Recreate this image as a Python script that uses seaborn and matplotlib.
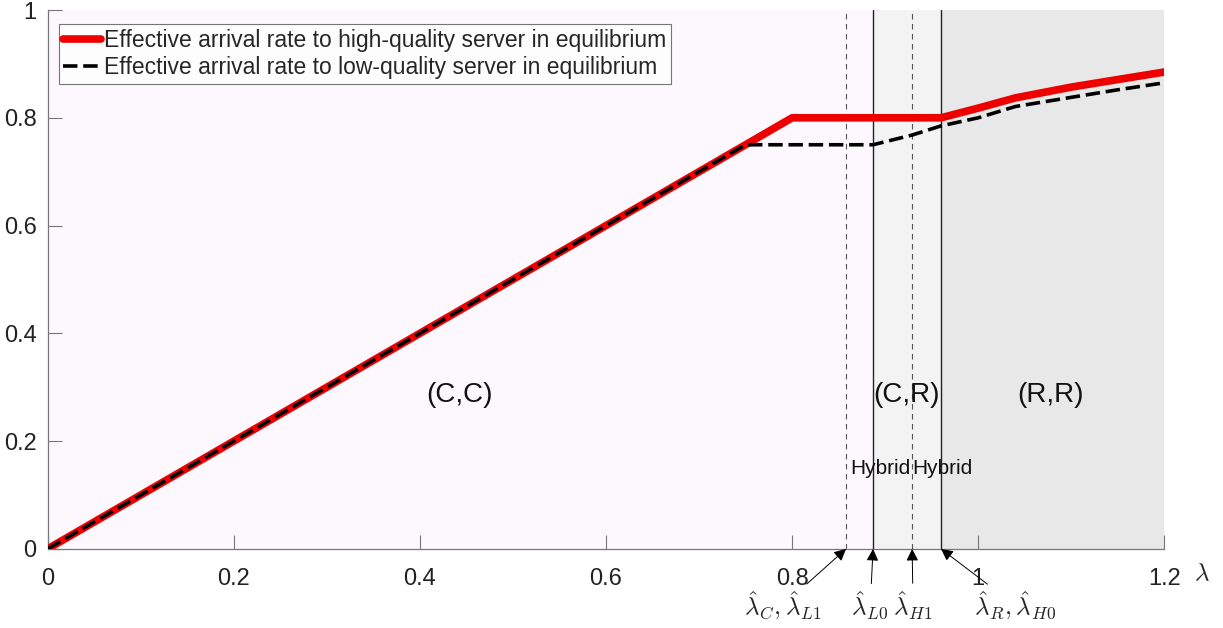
import matplotlib
matplotlib.use("Agg")
import matplotlib.pyplot as plt
import seaborn as sns
import pandas as pd

# ---- data ----
high_x = [0.0, 0.75, 0.80, 0.96, 1.00, 1.04, 1.10, 1.15, 1.20]
high_y = [0.0, 0.75, 0.80, 0.80, 0.818, 0.837, 0.857, 0.871, 0.885]
low_x = [0.0, 0.75, 0.887, 0.929, 0.96, 1.00, 1.04, 1.10, 1.15, 1.20]
low_y = [0.0, 0.75, 0.75, 0.768, 0.785, 0.80, 0.821, 0.838, 0.852, 0.865]

thresholds = {"lc": 0.858, "l0": 0.887, "h1": 0.929, "r": 0.960}
region_labels = ["(C,C)", "(C,R)", "(R,R)"]
region_label_x = [0.443, 0.923, 1.078]
hybrid_x = [0.895, 0.962]
legend_labels = ["Effective arrival rate to high-quality server in equilibrium",
                 "Effective arrival rate to low-quality server in equilibrium"]
xticks = [0, 0.2, 0.4, 0.6, 0.8, 1.0, 1.2]
xtick_labels = ["0", "0.2", "0.4", "0.6", "0.8", "1", "1.2"]
yticks = [0, 0.2, 0.4, 0.6, 0.8, 1.0]
ytick_labels = ["0", "0.2", "0.4", "0.6", "0.8", "1"]

sns.set_style("white")
plt.rcParams["font.family"] = ["Liberation Sans", "DejaVu Sans"]
plt.rcParams["mathtext.fontset"] = "cm"

fig = plt.figure(figsize=(12.23, 6.28), dpi=100)
ax = fig.add_axes([0.039, 0.126, 0.913, 0.858])

# shaded regions
ax.axvspan(0, thresholds["l0"], color="#FDF8FD", lw=0, zorder=0)
ax.axvspan(thresholds["l0"], thresholds["r"], color="#F3F3F3", lw=0, zorder=0)
ax.axvspan(thresholds["r"], 1.2, color="#E8E8E8", lw=0, zorder=0)

# vertical threshold lines
ax.axvline(thresholds["lc"], color="#555555", lw=0.8, ls=(0, (5, 4)), zorder=1)
ax.axvline(thresholds["h1"], color="#555555", lw=0.8, ls=(0, (5, 4)), zorder=1)
ax.axvline(thresholds["l0"], color="#222222", lw=1.0, zorder=1)
ax.axvline(thresholds["r"], color="#222222", lw=1.0, zorder=1)

df_h = pd.DataFrame({"x": high_x, "y": high_y})
df_l = pd.DataFrame({"x": low_x, "y": low_y})
sns.lineplot(data=df_h, x="x", y="y", ax=ax, color="#EE0000", lw=5.5,
             label=legend_labels[0], zorder=3, sort=False)
sns.lineplot(data=df_l, x="x", y="y", ax=ax, color="black", lw=2.6,
             label=legend_labels[1], zorder=4, sort=False)
ax.lines[-1].set_dashes([4, 1.6])

ax.set_xlim(0, 1.2)
ax.set_ylim(0, 1)
ax.set_xticks(xticks)
ax.set_xticklabels(xtick_labels)
ax.set_yticks(yticks)
ax.set_yticklabels(ytick_labels)
ax.set_xlabel("")
ax.set_ylabel("")
ax.tick_params(bottom=True, left=True, direction="in", length=10, width=0.8,
               color="#777777", labelsize=17, labelcolor="#222222")
ax.tick_params(axis="x", pad=14)
ax.tick_params(axis="y", pad=8)
for s in ["top", "right"]:
    ax.spines[s].set_visible(False)
for s in ["left", "bottom"]:
    ax.spines[s].set_color("#777777")
    ax.spines[s].set_linewidth(0.9)

# region labels
for lab, xx in zip(region_labels, region_label_x):
    ax.text(xx, 0.286, lab, fontsize=20, ha="center", va="center", color="#111111")
for xx in hybrid_x:
    ax.text(xx, 0.15, "Hybrid", fontsize=15, ha="center", va="center", color="#111111")

# lambda axis label
ax.text(1.24, -0.045, r"$\lambda$", fontsize=18, ha="center", va="center",
        transform=ax.transData, clip_on=False)

# bottom annotations
ann = [
    (r"$\hat{\lambda}_C,\hat{\lambda}_{L1}$", thresholds["lc"], 0.790),
    (r"$\hat{\lambda}_{L0}$", thresholds["l0"], 0.884),
    (r"$\hat{\lambda}_{H1}$", thresholds["h1"], 0.930),
    (r"$\hat{\lambda}_R,\hat{\lambda}_{H0}$", thresholds["r"], 1.040),
]
for txt, xp, xt in ann:
    ax.annotate(txt, xy=(xp, 0), xytext=(xt, -0.105), textcoords="data",
                fontsize=18, ha="center", va="center", annotation_clip=False,
                arrowprops=dict(arrowstyle="-|>", color="black", lw=0.7,
                                mutation_scale=18, shrinkA=2, shrinkB=0))

leg = ax.legend(loc="upper left", bbox_to_anchor=(0.0099, 0.974),
                prop={"size": 16.5},
                frameon=True, fancybox=False, edgecolor="#555555",
                handlelength=1.66, handletextpad=0.13, borderpad=0.2,
                labelspacing=0.2, borderaxespad=0.0)
leg.get_frame().set_linewidth(0.8)
leg.get_frame().set_facecolor("white")

fig.savefig("out.png", dpi=100, facecolor="white")
